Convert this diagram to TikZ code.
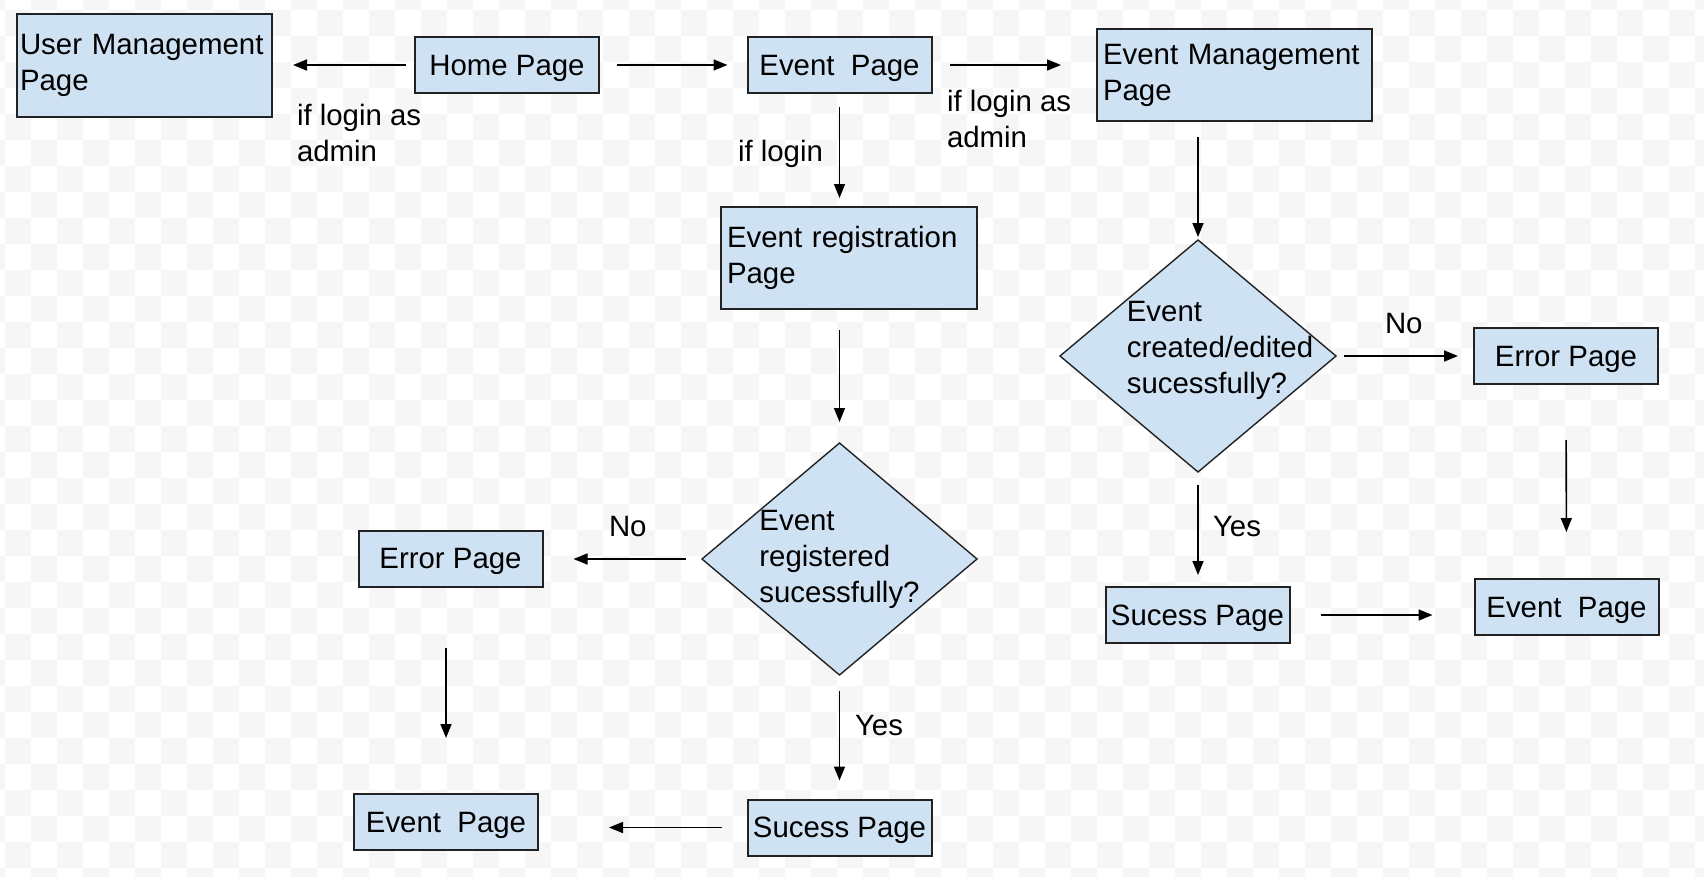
\documentclass[tikz,border=0pt]{standalone}
\usepackage{fontspec}
\setmainfont{Liberation Sans}
\usetikzlibrary{arrows.meta,shapes.geometric}
\definecolor{pagefill}{HTML}{CFE2F3}
\definecolor{edge}{HTML}{222222}
\definecolor{checker}{HTML}{F6F6F6}

\begin{document}
\begin{tikzpicture}[x=1pt,y=-1pt,inner sep=0pt,outer sep=0pt,
every node/.style={font=\fontsize{29.4}{36}\selectfont},
pagebox/.style={draw=edge,fill=pagefill,rectangle,line width=2pt,minimum width=184pt,minimum height=56pt,text depth=0pt},
widebox/.style={pagebox,align=left,inner xsep=6pt,text depth=},
decision/.style={draw=edge,fill=pagefill,diamond,line width=1.4pt,minimum width=275pt,minimum height=232pt},
flow/.style={line width=1.6pt,-{Triangle[length=14pt,width=11pt]}},
lbl/.style={anchor=base west,align=left}]

% checkered background
\fill[white] (0,0) rectangle (1704,876);
\begin{scope}
\clip (0,0) rectangle (1704,876);
\foreach \i in {-2,0,...,66}
  \foreach \j in {-2,0,...,34}
    {\fill[checker] (5+26*\i,10+26*\j) rectangle ++(26,26);
     \fill[checker] (31+26*\i,36+26*\j) rectangle ++(26,26);}
\end{scope}
\useasboundingbox (0,0) rectangle (1704,876);

\draw (144.5,65.5) node[widebox,inner xsep=3pt,text width=249pt,minimum height=103pt] (user) {User Management\\Page};
\draw (507,65) node[pagebox] (home) {Home Page};
\draw (839.5,65) node[pagebox] (event1) {Event\ \ Page};
\draw (1234.5,75) node[widebox,text width=263pt,minimum height=92pt] (evmgmt) {Event Management\\Page};
\draw (849,258) node[widebox,text width=244pt,minimum height=102pt] (reg) {Event registration\\Page};
\draw (839.5,559) node[decision] (d1) {};
\draw (1198,356) node[decision,minimum width=276pt] (d2) {};
\draw (450.5,558.5) node[pagebox] (err1) {Error Page};
\draw (446,822) node[pagebox] (ev1) {Event\ \ Page};
\draw (839.5,827.5) node[pagebox] (suc1) {Sucess Page};
\draw (1566,356) node[pagebox] (err2) {Error Page};
\draw (1566.5,607) node[pagebox] (ev2) {Event\ \ Page};
\draw (1197.5,615) node[pagebox] (suc2) {Sucess Page};

\draw (d1.center) node[align=left] {Event\\registered\\sucessfully?};
\draw (d2.center) ++(22,-6) node[align=left] {Event\\created/edited\\sucessfully?};

\draw[flow,shorten <=9pt,shorten >=21pt] (home.west) -- (home.west -| user.east);
\draw[flow,shorten <=18pt,shorten >=20pt] (home.east) -- (event1.west);
\draw[flow,shorten <=18pt,shorten >=36pt] (event1.east) -- (event1.east -| evmgmt.west);
\draw[flow,shorten <=14pt,shorten >=9pt] (event1.south) -- (event1.south |- reg.north);
\draw[flow,shorten <=16pt,shorten >=3pt] (d2.north |- evmgmt.south) -- (d2.north);
\draw[flow,shorten <=21pt,shorten >=21pt] (d1.north |- reg.south) -- (d1.north);
\draw[flow,shorten <=8pt,shorten >=16pt] (d2.east) -- (d2.east -| err2.west);
\draw[flow,shorten <=56pt,shorten >=47pt] (err2.south) -- (ev2.north);
\draw[flow,shorten <=13pt,shorten >=12pt] (d2.south) -- (d2.south |- suc2.north);
\draw[flow,shorten <=31pt,shorten >=42pt] (suc2.east) -- (suc2.east -| ev2.west);
\draw[flow,shorten <=16pt,shorten >=31pt] (d1.west) -- (d1.west -| err1.east);
\draw[flow,shorten <=61pt,shorten >=56pt] (ev1.north |- err1.south) -- (ev1.north);
\draw[flow,shorten <=16pt,shorten >=19pt] (d1.south) -- (suc1.north);
\draw[flow,shorten <=26pt,shorten >=71pt] (suc1.west) -- (suc1.west -| ev1.east);

\draw (297,161) node[lbl] {if login as\\admin};
\draw (738,161) node[lbl] {if login};
\draw (947,147) node[lbl] {if login as\\admin};
\draw (609,536) node[lbl] {No};
\draw (1385,333) node[lbl] {No};
\draw (855,735) node[lbl] {Yes};
\draw (1213,536) node[lbl] {Yes};
\end{tikzpicture}
\end{document}
